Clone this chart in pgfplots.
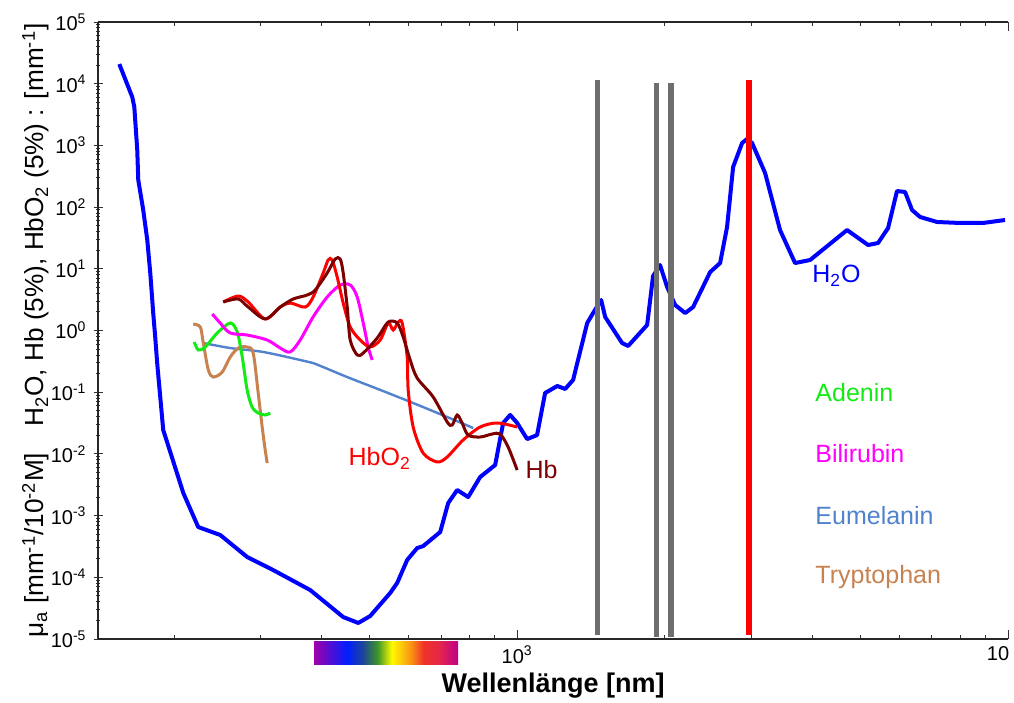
\documentclass[border=0pt]{standalone}
\usepackage{fontspec}
\setmainfont{Liberation Sans}
\usepackage{pgfplots}
\pgfplotsset{compat=1.18}
\definecolor{water}{RGB}{0,0,255}
\definecolor{hbo}{RGB}{255,0,0}
\definecolor{hb}{RGB}{125,0,0}
\definecolor{bili}{RGB}{255,0,255}
\definecolor{aden}{RGB}{20,235,20}
\definecolor{eumel}{RGB}{80,130,205}
\definecolor{trypt}{RGB}{200,130,80}
\definecolor{lgray}{RGB}{110,110,110}
\definecolor{sp0}{RGB}{160,0,170}
\definecolor{sp1}{RGB}{0,30,255}
\definecolor{sp2}{RGB}{30,70,150}
\definecolor{sp3}{RGB}{60,150,40}
\definecolor{sp4}{RGB}{255,250,0}
\definecolor{sp5}{RGB}{250,150,20}
\definecolor{sp6}{RGB}{240,50,40}
\definecolor{sp7}{RGB}{230,40,70}
\definecolor{sp8}{RGB}{190,0,140}
\pgfdeclarehorizontalshading{spectrum}{100bp}{color(0bp)=(sp0); color(25bp)=(sp0); color(36.5bp)=(sp1); color(42bp)=(sp2); color(47bp)=(sp3); color(52bp)=(sp4); color(58.5bp)=(sp5); color(63bp)=(sp6); color(68bp)=(sp7); color(75bp)=(sp8); color(100bp)=(sp8)}
\begin{document}
\begin{tikzpicture}
\begin{axis}[
  scale only axis, width=455pt, height=308.5pt,
  xmode=log, ymode=log,
  xmin=140, xmax=10000, ymin=1e-5, ymax=1e5,
  axis x line=box, axis y line=left,
  axis line style={-, black!85, line width=0.6pt},
  xtick={1000,10000},
  xticklabels={10\textsuperscript{3},10\rule{10pt}{0pt}},
  minor xtick={200,300,400,500,600,700,800,900,2000,3000,4000,5000,6000,7000,8000,9000},
  ytick={1e-5,1e-4,1e-3,1e-2,1e-1,1,10,100,1000,1e4,1e5},
  minor ytick={2e-5,3e-5,4e-5,5e-5,6e-5,7e-5,8e-5,9e-5,
    2e-4,3e-4,4e-4,5e-4,6e-4,7e-4,8e-4,9e-4,
    2e-3,3e-3,4e-3,5e-3,6e-3,7e-3,8e-3,9e-3,
    2e-2,3e-2,4e-2,5e-2,6e-2,7e-2,8e-2,9e-2,
    0.2,0.3,0.4,0.5,0.6,0.7,0.8,0.9,
    2,3,4,5,6,7,8,9,
    20,30,40,50,60,70,80,90,
    200,300,400,500,600,700,800,900,
    2000,3000,4000,5000,6000,7000,8000,9000,
    2e4,3e4,4e4,5e4,6e4,7e4,8e4,9e4},
  yticklabels={10\textsuperscript{-5},10\textsuperscript{-4},10\textsuperscript{-3},10\textsuperscript{-2},10\textsuperscript{-1},10\textsuperscript{0},10\textsuperscript{1},10\textsuperscript{2},10\textsuperscript{3},10\textsuperscript{4},10\textsuperscript{5}},
  major tick length=4.5pt, minor tick length=2pt,
  tick style={black!80, line width=0.5pt},
  tick label style={font=\fontsize{10}{12}\selectfont},
  xlabel={\textbf{Wellenlänge [nm]}},
  ylabel={μ\textsubscript{a} [mm\textsuperscript{-1}/10\textsuperscript{-2}M]\quad H\textsubscript{2}O, Hb (5\%), HbO\textsubscript{2} (5\%) : [mm\textsuperscript{-1}]},
  label style={font=\fontsize{13.5}{15}\selectfont},
  ylabel style={font=\fontsize{13.1}{15}\selectfont, yshift=-6pt},
  xlabel style={yshift=2pt},
  clip=false,
]
% water
\addplot[water, line width=2pt, line join=round] coordinates {
(154.7,2.08e4) (164.4,6.09e3) (166.0,4.19e3) (168.3,842) (169.1,275) (173.1,89.7) (176.4,29.3) (178.9,8.55) (181.4,1.92) (183.1,0.785) (184.8,0.297) (190.1,0.0244) (208.9,2.32e-3) (224.0,6.53e-4) (248.4,4.85e-4) (281.9,2.13e-4) (318.4,1.31e-4) (378.8,6.22e-5) (442.2,2.27e-5) (474.6,1.82e-5) (501.9,2.36e-5) (551.2,5.57e-5) (569.6,8.09e-5) (597.0,1.91e-4) (625.6,2.98e-4) (643.6,3.21e-4) (697.0,5.42e-4) (723.7,1.60e-3) (754.9,2.60e-3) (794.8,2.00e-3) (840.6,4.22e-3) (902.0,6.61e-3) (936.5,0.0317) (967.7,0.0428) (1000,0.0317) (1048,0.0174) (1098,0.0202) (1140,0.097) (1207,0.126) (1253,0.113) (1300,0.158) (1389,1.32) (1428,1.92) (1483,3.12) (1511,1.66) (1636,0.627) (1683,0.561) (1840,1.23) (1892,7.64) (1955,11.5) (2021,5.07) (2098,2.59) (2199,1.92) (2283,2.40) (2473,8.87) (2591,12.4) (2677,47.6) (2754,447) (2873,1094) (2941,1270) (3010,1094) (3200,357) (3432,42.5) (3683,12.4) (3952,13.9) (4700,42.5) (5187,24.3) (5436,26.2) (5697,45.8) (5941,182) (6169,176) (6376,89.7) (6620,69.2) (7168,57.4) (7985,55.3) (8895,55.3) (9860,61.8)};
% Eumelanin
\addplot[eumel, line width=1.2pt, smooth, tension=0.5] coordinates {
(229.4,0.627) (260.3,0.520) (303.8,0.449) (361.4,0.333) (384.1,0.297) (450.6,0.176) (526.0,0.109) (614.0,0.0668) (720.3,0.0396) (813.7,0.0263)};
% Tryptophan
\addplot[trypt, line width=1.5pt, smooth, tension=0.5] coordinates {
(218.8,1.27) (226.2,1.14) (229.4,0.627) (234.9,0.229) (240.4,0.176) (250.7,0.212) (260.3,0.372) (270.3,0.520) (281.8,0.541) (289.9,0.432) (296.8,0.0970) (302.4,0.0273) (306.7,0.0116) (309.6,0.00713)};
% Adenin
\addplot[aden, line width=1.5pt, smooth, tension=0.5] coordinates {
(219.9,0.651) (224.1,0.483) (231.6,0.541) (244.9,0.911) (260.3,1.32) (269.0,0.946) (275.4,0.372) (281.8,0.109) (288.5,0.0575) (296.8,0.0460) (306.7,0.0427) (314.0,0.0460)};
% Bilirubin
\addplot[bili, line width=1.5pt, smooth, tension=0.5] coordinates {
(239.3,1.85) (248.4,1.32) (260.3,0.911) (281.8,0.845) (309.6,0.701) (329.1,0.520) (344.9,0.449) (361.4,0.701) (384.1,1.66) (410.2,3.49) (436.0,5.46) (457.0,5.46) (472.2,3.49) (485.8,1.32) (497.2,0.541) (506.6,0.333)};
% HbO2
\addplot[hbo, line width=1.5pt, smooth, tension=0.5] coordinates {
(251.9,2.90) (270.3,3.62) (283.2,2.90) (306.7,1.54) (329.1,2.40) (344.9,2.79) (370.0,2.40) (384.1,3.49) (402.6,8.55) (412.1,13.9) (419.9,13.9) (429.9,7.37) (442.2,2.79) (457.0,1.14) (478.9,0.701) (501.9,0.541) (526.0,0.701) (546.1,1.32) (559.1,1.02) (572.4,1.37) (583.2,1.32) (597.0,0.372) (599.8,0.109) (614.0,0.0273) (643.6,0.0103) (687.3,0.00740) (720.3,0.00891) (776.2,0.0168) (840.8,0.0273) (910.5,0.0317) (1000,0.0273)};
% Hb
\addplot[hb, line width=1.5pt, smooth, tension=0.5] coordinates {
(251.9,2.90) (270.3,3.24) (283.2,2.40) (306.7,1.54) (329.1,2.40) (349.8,3.24) (373.5,3.76) (387.8,4.53) (410.2,8.55) (425.8,14.4) (436.0,14.4) (442.2,8.55) (450.6,2.40) (457.0,0.701) (472.2,0.401) (485.8,0.432) (518.7,0.755) (546.1,1.37) (569.7,1.32) (585.9,0.785) (605.5,0.333) (625.6,0.170) (674.5,0.0836) (720.3,0.0329) (737.4,0.0294) (754.9,0.0427) (772.7,0.0317) (794.6,0.0202) (840.8,0.0188) (889.3,0.0210) (923.3,0.0210) (958.7,0.0129) (1000,0.00548)};
% laser lines
\addplot[lgray, line width=2.7pt] coordinates {(1456,1.15e4) (1456,1.16e-5)};
\addplot[lgray, line width=2.7pt] coordinates {(1925,1.03e4) (1925,1.08e-5)};
\addplot[lgray, line width=2.7pt] coordinates {(2059,1.03e4) (2059,1.08e-5)};
\addplot[hbo, line width=2.8pt] coordinates {(2968,1.15e4) (2968,1.16e-5)};
% labels
\begin{scope}[every node/.style={inner sep=0pt, font=\fontsize{12.5}{14}\selectfont}]
\node[anchor=base west, text=water] at (axis cs:3988,5.89) {H\textsubscript{2}O};
\node[anchor=base west, text=aden] at (axis cs:4045,0.0719) {Adenin};
\node[anchor=base west, text=bili] at (axis cs:4045,7.13e-3) {Bilirubin};
\node[anchor=base west, text=eumel] at (axis cs:4045,7.05e-4) {Eumelanin};
\node[anchor=base west, text=trypt] at (axis cs:4045,7.8e-5) {Tryptophan};
\node[anchor=base west, text=hbo] at (axis cs:452.8,6.37e-3) {HbO\textsubscript{2}};
\node[anchor=base west, text=hb] at (axis cs:1038,4.06e-3) {Hb};
\end{scope}
\shade[shading=spectrum] ([yshift=-1pt]axis cs:386,1e-5) rectangle ([yshift=-12.5pt]axis cs:758,1e-5);
\coordinate (SW) at (rel axis cs:0,0);
\coordinate (NE) at (rel axis cs:1,1);
\end{axis}
\pgfresetboundingbox
\path ([shift={(-49pt,-31.5pt)}]SW) rectangle ([shift={(3pt,11pt)}]NE);
\end{tikzpicture}
\end{document}
